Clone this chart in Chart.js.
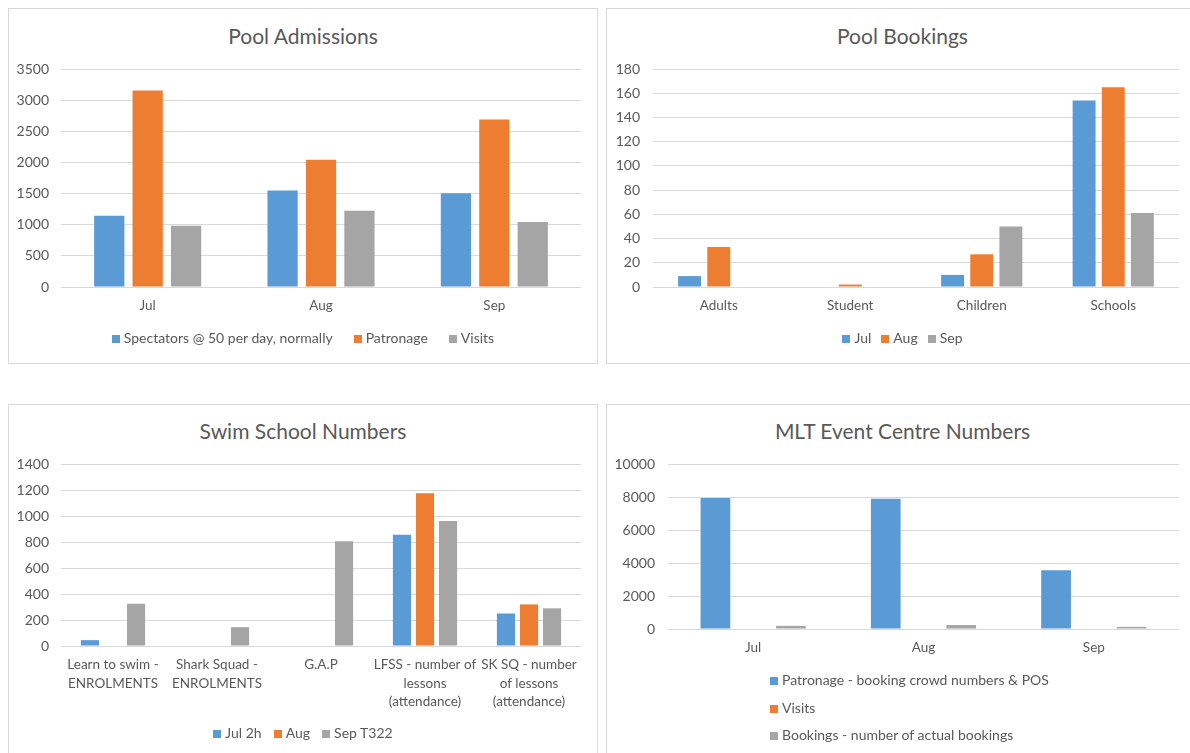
<!DOCTYPE html>
<html>
<head>
<meta charset="utf-8">
<script src="https://cdn.jsdelivr.net/npm/chart.js@4.4.0/dist/chart.umd.min.js"></script>
<style>
  html, body { margin: 0; padding: 0; background: #fff; }
  body { width: 1190px; height: 753px; position: relative; overflow: hidden; font-family: Lato, "DejaVu Sans", sans-serif; color: #595959; }
  .panel { position: absolute; border: 1px solid #d9d9d9; box-sizing: border-box; background: #fff; }
  .panel canvas { position: absolute; left: 0; top: 0; }
  .title { position: absolute; left: 0; width: 100%; text-align: center; font-size: 21px; line-height: 25px; white-space: nowrap; }
  .legend { position: absolute; left: 0; width: 100%; display: flex; justify-content: center; font-size: 14px; line-height: 17px; white-space: nowrap; }
  .legend.vertical { flex-direction: column; justify-content: flex-start; gap: 10.5px; }
  .sw { display: inline-block; width: 8px; height: 8px; margin-right: 4px; }
</style>
</head>
<body>

<div class="panel" style="left:8px; top:8px; width:590px; height:356px;">
  <div class="title" style="top:14px;">Pool Admissions</div>
  <canvas id="c1" width="588" height="354"></canvas>
  <div class="legend" id="l1" style="top:320px; gap:21px;"></div>
</div>

<div class="panel" style="left:606px; top:8px; width:593px; height:356px;">
  <div class="title" style="top:14px;">Pool Bookings</div>
  <canvas id="c2" width="591" height="354"></canvas>
  <div class="legend" id="l2" style="top:320px; gap:10px;"></div>
</div>

<div class="panel" style="left:8px; top:404px; width:590px; height:356px;">
  <div class="title" style="top:13px;">Swim School Numbers</div>
  <canvas id="c3" width="588" height="354"></canvas>
  <div class="legend" id="l3" style="top:319px; gap:12px;"></div>
</div>

<div class="panel" style="left:606px; top:404px; width:593px; height:356px;">
  <div class="title" style="top:13px;">MLT Event Centre Numbers</div>
  <canvas id="c4" width="591" height="354"></canvas>
  <div class="legend vertical" id="l4" style="top:266px; left:163px; width:auto;"></div>
</div>

<script>
// colours
const BLUE = '#5b9bd5';
const ORANGE = '#ed7d31';
const GRAY = '#a5a5a5';

// Pool Admissions
const admMonths = ['Jul', 'Aug', 'Sep'];
const admNames = ['Spectators @ 50 per day, normally', 'Patronage', 'Visits'];
const admSpectators = [1145, 1550, 1505];
const admPatronage = [3155, 2045, 2690];
const admVisits = [985, 1225, 1045];
const admTicks = [0, 500, 1000, 1500, 2000, 2500, 3000, 3500];

// Pool Bookings
const bookCats = ['Adults', 'Student', 'Children', 'Schools'];
const bookNames = ['Jul', 'Aug', 'Sep'];
const bookJul = [9, null, 10, 154];
const bookAug = [33, 2, 27, 165];
const bookSep = [null, null, 50, 61];
const bookTicks = [0, 20, 40, 60, 80, 100, 120, 140, 160, 180];

// Swim School Numbers
const swimCats = [
  ['Learn to swim -', 'ENROLMENTS'],
  ['Shark Squad -', 'ENROLMENTS'],
  'G.A.P',
  ['LFSS - number of', 'lessons', '(attendance)'],
  ['SK SQ - number', 'of lessons', '(attendance)']
];
const swimNames = ['Jul 2h', 'Aug', 'Sep T322'];
const swimJul = [45, null, null, 855, 250];
const swimAug = [null, null, null, 1175, 320];
const swimSep = [325, 145, 805, 962, 290];
const swimTicks = [0, 200, 400, 600, 800, 1000, 1200, 1400];

// MLT Event Centre Numbers
const eventMonths = ['Jul', 'Aug', 'Sep'];
const eventNames = ['Patronage - booking crowd numbers & POS', 'Visits', 'Bookings - number of actual bookings'];
const eventPatronage = [7940, 7900, 3560];
const eventVisits = [null, null, null];
const eventBookings = [190, 240, 130];
const eventTicks = [0, 2000, 4000, 6000, 8000, 10000];

const colors = [BLUE, ORANGE, GRAY];

Chart.defaults.font.family = 'Lato, "DejaVu Sans", sans-serif';
Chart.defaults.color = '#595959';

function makeLegend(id, names) {
  const el = document.getElementById(id);
  names.forEach((name, i) => {
    const item = document.createElement('span');
    const sw = document.createElement('span');
    sw.className = 'sw';
    sw.style.background = colors[i];
    item.appendChild(sw);
    item.appendChild(document.createTextNode(name));
    el.appendChild(item);
  });
}

function barChart(id, labels, names, series, ticks, opts) {
  new Chart(document.getElementById(id), {
    type: 'bar',
    data: {
      labels: labels,
      datasets: series.map((d, i) => ({
        label: names[i],
        data: d,
        backgroundColor: colors[i],
        borderWidth: 0,
        categoryPercentage: 0.665,
        barPercentage: 0.787
      }))
    },
    options: {
      responsive: false,
      animation: false,
      layout: { padding: { left: 0, right: opts.right, top: opts.top, bottom: opts.bottom } },
      plugins: { legend: { display: false }, title: { display: false }, tooltip: { enabled: false } },
      scales: {
        x: {
          grid: { display: false, drawTicks: false },
          border: { display: false },
          ticks: { font: { size: 13.5, lineHeight: 1.37 }, padding: 9.5, maxRotation: 0, minRotation: 0, autoSkip: false },
          afterFit: (s) => { s.height = opts.xh; }
        },
        y: {
          min: ticks[0],
          max: ticks[ticks.length - 1],
          grid: { color: '#d9d9d9', drawTicks: false },
          border: { display: false },
          ticks: { stepSize: ticks[1] - ticks[0], font: { size: 14 }, padding: opts.pad, callback: (v) => String(v) },
          afterFit: (s) => { s.width = opts.yw; }
        }
      }
    }
  });
}

barChart('c1', admMonths, admNames, [admSpectators, admPatronage, admVisits], admTicks,
  { yw: 52, right: 16, top: 60, bottom: 36, xh: 40, pad: 12 });
barChart('c2', bookCats, bookNames, [bookJul, bookAug, bookSep], bookTicks,
  { yw: 46, right: 19, top: 60, bottom: 36, xh: 40, pad: 13 });
barChart('c3', swimCats, swimNames, [swimJul, swimAug, swimSep], swimTicks,
  { yw: 52, right: 16, top: 59, bottom: 40, xh: 73, pad: 12 });
barChart('c4', eventMonths, eventNames, [eventPatronage, eventVisits, eventBookings], eventTicks,
  { yw: 61, right: 19, top: 59, bottom: 90, xh: 40, pad: 13 });

makeLegend('l1', admNames);
makeLegend('l2', bookNames);
makeLegend('l3', swimNames);
makeLegend('l4', eventNames);
</script>
</body>
</html>
